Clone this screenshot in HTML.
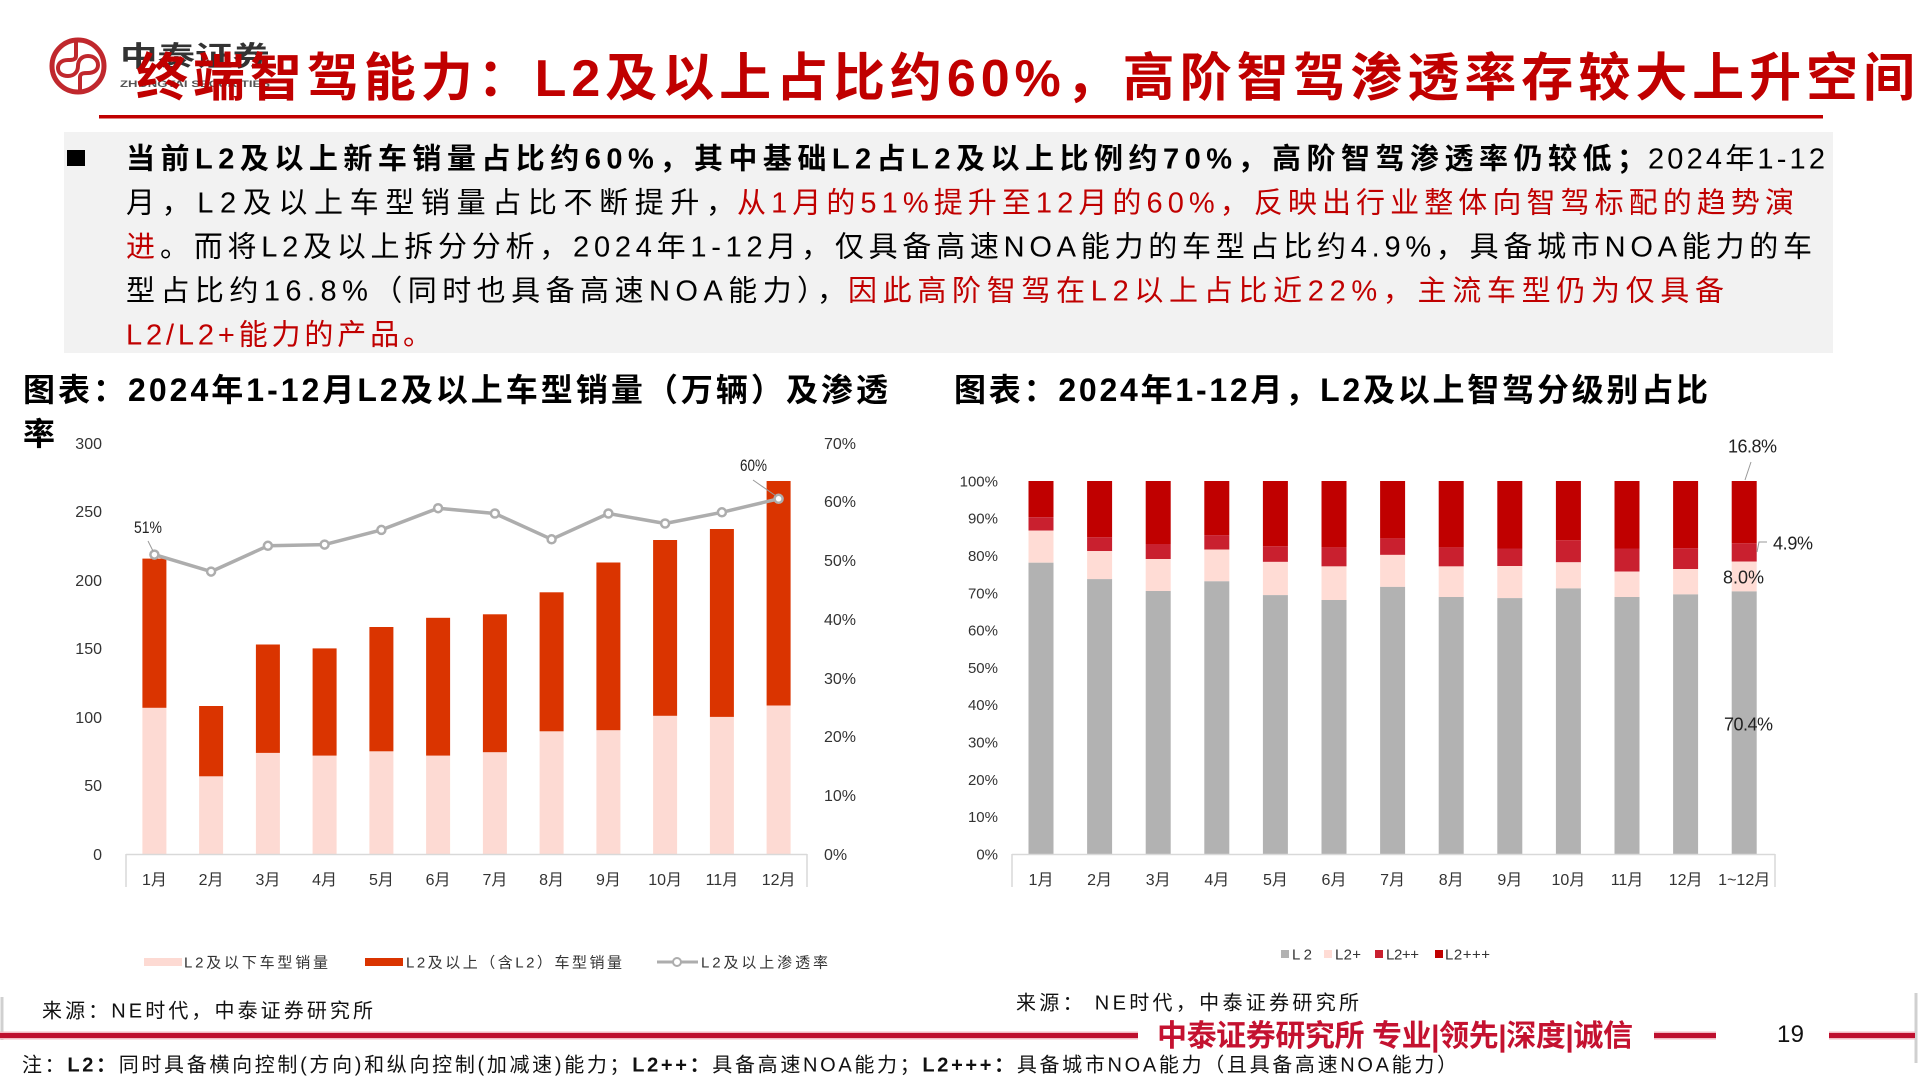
<!DOCTYPE html>
<html><head><meta charset="utf-8"><style>
html,body{margin:0;padding:0;background:#fff;}
svg{display:block;}
text{font-family:"Liberation Sans","Noto Sans CJK SC",sans-serif;}
</style></head><body>
<svg width="1920" height="1080" viewBox="0 0 1920 1080" xmlns="http://www.w3.org/2000/svg">
<rect x="0" y="0" width="1920" height="1080" fill="#fff"/>

<!-- Logo -->
<circle cx="78" cy="66" r="26" fill="none" stroke="#C0282D" stroke-width="5"/>
<path d="M76,41 V56 C76,60 72,60 68,60 C61,60 58,64 58,68 C58,73 62,76 68,76 C74,76 78,72 78,66 C78,60 82,56 88,56 C94,56 98,60 98,65 C98,70 94,73 88,73 C84,73 80,73 80,77 V91" fill="none" stroke="#C0282D" stroke-width="4"/>
<text x="120" y="66" font-size="28" font-weight="bold" fill="#333" textLength="150" lengthAdjust="spacingAndGlyphs">中泰证券</text>
<text x="120" y="87" font-size="9" font-weight="bold" fill="#555" textLength="150" lengthAdjust="spacingAndGlyphs">ZHONGTAI SECURITIES</text>

<!-- Title -->
<text x="136" y="96" font-size="52" font-weight="bold" fill="#C00000" textLength="1779" lengthAdjust="spacing">终端智驾能力：L2及以上占比约60%，高阶智驾渗透率存较大上升空间</text>
<rect x="99" y="115" width="1724" height="3.5" fill="#C00000"/>

<!-- Summary box -->
<rect x="64" y="132" width="1769" height="221" fill="#F2F2F2"/>
<rect x="67" y="150" width="18" height="16" fill="#000"/>
<g font-size="29">
<text x="126" y="168.5" font-weight="bold" fill="#000" textLength="1520" lengthAdjust="spacing">当前L2及以上新车销量占比约60%，其中基础L2占L2及以上比例约70%，高阶智驾渗透率仍较低；</text>
<text x="1648" y="168.5" fill="#000" textLength="177" lengthAdjust="spacing">2024年1-12</text>

<text x="126" y="212.5" fill="#000" textLength="609" lengthAdjust="spacing">月，L2及以上车型销量占比不断提升，</text>
<text x="737" y="212.5" fill="#C00000" textLength="1057" lengthAdjust="spacing">从1月的51%提升至12月的60%，反映出行业整体向智驾标配的趋势演</text>

<text x="126" y="256.5" fill="#C00000">进</text>
<text x="160" y="256.5" fill="#000" textLength="1652" lengthAdjust="spacing">。而将L2及以上拆分分析，2024年1-12月，仅具备高速NOA能力的车型占比约4.9%，具备城市NOA能力的车</text>

<text x="126" y="300.5" fill="#000" textLength="720" lengthAdjust="spacing">型占比约16.8%（同时也具备高速NOA能力），</text>
<text x="848" y="300.5" fill="#C00000" textLength="876" lengthAdjust="spacing">因此高阶智驾在L2以上占比近22%，主流车型仍为仅具备</text>

<text x="126" y="344.5" fill="#C00000" textLength="306" lengthAdjust="spacing">L2/L2+能力的产品。</text>
</g>

<!-- Left chart title -->
<text x="23" y="401" font-size="32" font-weight="bold" fill="#000" textLength="865" lengthAdjust="spacing">图表：2024年1-12月L2及以上车型销量（万辆）及渗透</text>
<text x="23" y="445" font-size="32" font-weight="bold" fill="#000">率</text>

<!-- Right chart title -->
<text x="954" y="401" font-size="32" font-weight="bold" fill="#000" textLength="754" lengthAdjust="spacing">图表：2024年1-12月，L2及以上智驾分级别占比</text>

<!-- LEFT CHART -->
<g font-size="16" fill="#333">
<g text-anchor="end">
<text x="102" y="860">0</text>
<text x="102" y="791">50</text>
<text x="102" y="723">100</text>
<text x="102" y="654">150</text>
<text x="102" y="586">200</text>
<text x="102" y="517">250</text>
<text x="102" y="449">300</text>
</g>
<g>
<text x="824" y="860">0%</text>
<text x="824" y="801">10%</text>
<text x="824" y="742">20%</text>
<text x="824" y="684">30%</text>
<text x="824" y="625">40%</text>
<text x="824" y="566">50%</text>
<text x="824" y="507">60%</text>
<text x="824" y="449">70%</text>
</g>
</g>

<!-- left bars -->
<g fill="#FDDAD3">
<rect x="142.4" y="707.8" width="24" height="146.2"/>
<rect x="199.1" y="776.3" width="24" height="77.7"/>
<rect x="255.9" y="752.9" width="24" height="101.1"/>
<rect x="312.6" y="755.6" width="24" height="98.4"/>
<rect x="369.4" y="751.3" width="24" height="102.7"/>
<rect x="426.1" y="755.6" width="24" height="98.4"/>
<rect x="482.9" y="752.2" width="24" height="101.8"/>
<rect x="539.6" y="731.3" width="24" height="122.7"/>
<rect x="596.4" y="730.2" width="24" height="123.8"/>
<rect x="653.1" y="715.8" width="24" height="138.2"/>
<rect x="709.9" y="716.9" width="24" height="137.1"/>
<rect x="766.6" y="705.5" width="24" height="148.5"/>
</g>
<g fill="#DA3400">
<rect x="142.4" y="558.6" width="24" height="149.2"/>
<rect x="199.1" y="706.0" width="24" height="70.3"/>
<rect x="255.9" y="644.5" width="24" height="108.4"/>
<rect x="312.6" y="648.4" width="24" height="107.2"/>
<rect x="369.4" y="627.0" width="24" height="124.3"/>
<rect x="426.1" y="617.8" width="24" height="137.8"/>
<rect x="482.9" y="614.3" width="24" height="137.9"/>
<rect x="539.6" y="592.3" width="24" height="139.0"/>
<rect x="596.4" y="562.5" width="24" height="167.7"/>
<rect x="653.1" y="540.0" width="24" height="175.8"/>
<rect x="709.9" y="529.0" width="24" height="187.9"/>
<rect x="766.6" y="481.0" width="24" height="224.5"/>
</g>

<!-- left axis -->
<line x1="126" y1="854.5" x2="807" y2="854.5" stroke="#D9D9D9" stroke-width="1.5"/>
<line x1="126" y1="854" x2="126" y2="887" stroke="#D9D9D9" stroke-width="1.5"/>
<line x1="807" y1="854" x2="807" y2="887" stroke="#D9D9D9" stroke-width="1.5"/>
<g font-size="16" fill="#333" text-anchor="middle">
<text x="154.4" y="885">1月</text>
<text x="211.1" y="885">2月</text>
<text x="267.9" y="885">3月</text>
<text x="324.6" y="885">4月</text>
<text x="381.4" y="885">5月</text>
<text x="438.1" y="885">6月</text>
<text x="494.9" y="885">7月</text>
<text x="551.6" y="885">8月</text>
<text x="608.4" y="885">9月</text>
<text x="665.1" y="885">10月</text>
<text x="721.9" y="885">11月</text>
<text x="778.6" y="885">12月</text>
</g>

<!-- line -->
<polyline points="154.4,554.6 211.1,571.6 267.9,545.8 324.6,544.6 381.4,529.9 438.1,508.2 494.9,513.5 551.6,539.3 608.4,513.5 665.1,523.5 721.9,512.3 778.6,498.8" fill="none" stroke="#ADADAD" stroke-width="3.5" stroke-linejoin="round"/>
<g fill="#fff" stroke="#ADADAD" stroke-width="2.5">
<circle cx="154.4" cy="554.6" r="4"/>
<circle cx="211.1" cy="571.6" r="4"/>
<circle cx="267.9" cy="545.8" r="4"/>
<circle cx="324.6" cy="544.6" r="4"/>
<circle cx="381.4" cy="529.9" r="4"/>
<circle cx="438.1" cy="508.2" r="4"/>
<circle cx="494.9" cy="513.5" r="4"/>
<circle cx="551.6" cy="539.3" r="4"/>
<circle cx="608.4" cy="513.5" r="4"/>
<circle cx="665.1" cy="523.5" r="4"/>
<circle cx="721.9" cy="512.3" r="4"/>
<circle cx="778.6" cy="498.8" r="4"/>
</g>
<line x1="148" y1="541" x2="153" y2="551" stroke="#999" stroke-width="1"/>
<line x1="753" y1="480" x2="776" y2="496" stroke="#999" stroke-width="1"/>
<text x="134" y="533" font-size="17" fill="#222" textLength="28" lengthAdjust="spacingAndGlyphs">51%</text>
<text x="740" y="471" font-size="17" fill="#222" textLength="27" lengthAdjust="spacingAndGlyphs">60%</text>

<!-- left legend -->
<rect x="144" y="958" width="38" height="8" fill="#FDDAD3"/>
<text x="184" y="967.5" font-size="15" fill="#333" textLength="144" lengthAdjust="spacing">L2及以下车型销量</text>
<rect x="365" y="958" width="38" height="8" fill="#DA3400"/>
<text x="406" y="967.5" font-size="15" fill="#333" textLength="216" lengthAdjust="spacing">L2及以上（含L2）车型销量</text>
<line x1="657" y1="962" x2="698" y2="962" stroke="#ADADAD" stroke-width="3"/>
<circle cx="677" cy="962" r="4" fill="#fff" stroke="#ADADAD" stroke-width="2"/>
<text x="701" y="967.5" font-size="15" fill="#333" textLength="127" lengthAdjust="spacing">L2及以上渗透率</text>

<!-- RIGHT CHART -->
<g font-size="15" fill="#333" text-anchor="end">
<text x="998" y="859.4">0%</text>
<text x="998" y="822.1">10%</text>
<text x="998" y="784.8">20%</text>
<text x="998" y="747.5">30%</text>
<text x="998" y="710.2">40%</text>
<text x="998" y="672.9">50%</text>
<text x="998" y="635.6">60%</text>
<text x="998" y="598.3">70%</text>
<text x="998" y="561.0">80%</text>
<text x="998" y="523.7">90%</text>
<text x="998" y="486.4">100%</text>
</g>

<g fill="#C00000">
<rect x="1028.5" y="481" width="25" height="36.2"/>
<rect x="1087.1" y="481" width="25" height="56.3"/>
<rect x="1145.7" y="481" width="25" height="63.0"/>
<rect x="1204.3" y="481" width="25" height="54.1"/>
<rect x="1262.9" y="481" width="25" height="65.3"/>
<rect x="1321.5" y="481" width="25" height="66.4"/>
<rect x="1380.1" y="481" width="25" height="57.4"/>
<rect x="1438.7" y="481" width="25" height="66.4"/>
<rect x="1497.3" y="481" width="25" height="67.5"/>
<rect x="1555.9" y="481" width="25" height="59.3"/>
<rect x="1614.5" y="481" width="25" height="67.5"/>
<rect x="1673.1" y="481" width="25" height="67.1"/>
<rect x="1731.7" y="481" width="25" height="62.3"/>
</g>
<g fill="#C9202F">
<rect x="1028.5" y="517.2" width="25" height="13.4"/>
<rect x="1087.1" y="537.3" width="25" height="13.8"/>
<rect x="1145.7" y="544.0" width="25" height="15.0"/>
<rect x="1204.3" y="535.1" width="25" height="14.5"/>
<rect x="1262.9" y="546.3" width="25" height="15.6"/>
<rect x="1321.5" y="547.4" width="25" height="19.0"/>
<rect x="1380.1" y="538.4" width="25" height="16.5"/>
<rect x="1438.7" y="547.4" width="25" height="19.0"/>
<rect x="1497.3" y="548.5" width="25" height="17.5"/>
<rect x="1555.9" y="540.3" width="25" height="22.0"/>
<rect x="1614.5" y="548.5" width="25" height="23.1"/>
<rect x="1673.1" y="548.1" width="25" height="20.9"/>
<rect x="1731.7" y="543.3" width="25" height="18.3"/>
</g>
<g fill="#FFDCD5">
<rect x="1028.5" y="530.6" width="25" height="32.1"/>
<rect x="1087.1" y="551.1" width="25" height="28.0"/>
<rect x="1145.7" y="559.0" width="25" height="32.0"/>
<rect x="1204.3" y="549.6" width="25" height="31.7"/>
<rect x="1262.9" y="561.9" width="25" height="33.2"/>
<rect x="1321.5" y="566.4" width="25" height="33.6"/>
<rect x="1380.1" y="554.9" width="25" height="32.0"/>
<rect x="1438.7" y="566.4" width="25" height="30.6"/>
<rect x="1497.3" y="566.0" width="25" height="32.1"/>
<rect x="1555.9" y="562.3" width="25" height="26.1"/>
<rect x="1614.5" y="571.6" width="25" height="25.4"/>
<rect x="1673.1" y="569.0" width="25" height="25.4"/>
<rect x="1731.7" y="561.6" width="25" height="29.8"/>
</g>
<g fill="#B2B2B2">
<rect x="1028.5" y="562.7" width="25" height="291.3"/>
<rect x="1087.1" y="579.1" width="25" height="274.9"/>
<rect x="1145.7" y="591.0" width="25" height="263.0"/>
<rect x="1204.3" y="581.3" width="25" height="272.7"/>
<rect x="1262.9" y="595.1" width="25" height="258.9"/>
<rect x="1321.5" y="600.0" width="25" height="254.0"/>
<rect x="1380.1" y="586.9" width="25" height="267.1"/>
<rect x="1438.7" y="597.0" width="25" height="257.0"/>
<rect x="1497.3" y="598.1" width="25" height="255.9"/>
<rect x="1555.9" y="588.4" width="25" height="265.6"/>
<rect x="1614.5" y="597.0" width="25" height="257.0"/>
<rect x="1673.1" y="594.4" width="25" height="259.6"/>
<rect x="1731.7" y="591.4" width="25" height="262.6"/>
</g>

<line x1="1012" y1="854.5" x2="1775" y2="854.5" stroke="#D9D9D9" stroke-width="1.5"/>
<line x1="1012" y1="854" x2="1012" y2="887" stroke="#D9D9D9" stroke-width="1.5"/>
<line x1="1775" y1="854" x2="1775" y2="887" stroke="#D9D9D9" stroke-width="1.5"/>
<g font-size="16" fill="#333" text-anchor="middle">
<text x="1041" y="885">1月</text>
<text x="1099.6" y="885">2月</text>
<text x="1158.2" y="885">3月</text>
<text x="1216.8" y="885">4月</text>
<text x="1275.4" y="885">5月</text>
<text x="1334" y="885">6月</text>
<text x="1392.6" y="885">7月</text>
<text x="1451.2" y="885">8月</text>
<text x="1509.8" y="885">9月</text>
<text x="1568.4" y="885">10月</text>
<text x="1627" y="885">11月</text>
<text x="1685.6" y="885">12月</text>
<text x="1744.2" y="885">1~12月</text>
</g>

<!-- right labels -->
<line x1="1751" y1="462" x2="1745" y2="480" stroke="#999" stroke-width="1"/>
<polyline points="1767,542 1759,542 1757,552" fill="none" stroke="#999" stroke-width="1"/>
<g font-size="18" fill="#222">
<text x="1728" y="452.5" textLength="49" lengthAdjust="spacing">16.8%</text>
<text x="1773" y="549.5" textLength="40" lengthAdjust="spacing">4.9%</text>
<text x="1723" y="583.5" textLength="41" lengthAdjust="spacing">8.0%</text>
<text x="1724" y="730.5" textLength="49" lengthAdjust="spacing">70.4%</text>
</g>

<!-- right legend -->
<rect x="1281" y="950" width="8" height="8" fill="#B2B2B2"/>
<text x="1292" y="959.5" font-size="15" fill="#333" textLength="20" lengthAdjust="spacing">L2</text>
<rect x="1324" y="950" width="8" height="8" fill="#FFDCD5"/>
<text x="1335" y="959.5" font-size="15" fill="#333" textLength="26" lengthAdjust="spacing">L2+</text>
<rect x="1375" y="950" width="8" height="8" fill="#C9202F"/>
<text x="1386" y="959.5" font-size="15" fill="#333" textLength="33" lengthAdjust="spacing">L2++</text>
<rect x="1435" y="950" width="8" height="8" fill="#C00000"/>
<text x="1445" y="959.5" font-size="15" fill="#333" textLength="45" lengthAdjust="spacing">L2+++</text>

<!-- sources -->
<text x="42" y="1017.5" font-size="20" fill="#111" textLength="331" lengthAdjust="spacing">来源：NE时代，中泰证券研究所</text>
<text x="1016" y="1009.5" font-size="20" fill="#111" textLength="343" lengthAdjust="spacing">来源： NE时代，中泰证券研究所</text>

<!-- footer -->
<line x1="2" y1="997" x2="2" y2="1040" stroke="#D0D0D0" stroke-width="3"/>
<line x1="1916" y1="993" x2="1916" y2="1063" stroke="#D0D0D0" stroke-width="3"/>
<rect x="0" y="1031.5" width="1138" height="8" fill="#F2B9C2"/>
<rect x="0" y="1033" width="1138" height="5" fill="#BE0F2E"/>
<rect x="1654" y="1031.5" width="62" height="8" fill="#F2B9C2"/>
<rect x="1654" y="1033" width="62" height="5" fill="#BE0F2E"/>
<rect x="1829" y="1031.5" width="86" height="8" fill="#F2B9C2"/>
<rect x="1829" y="1033" width="86" height="5" fill="#BE0F2E"/>
<text x="1157" y="1046" font-size="30" font-weight="bold" fill="#C41230" textLength="476" lengthAdjust="spacing">中泰证券研究所 专业|领先|深度|诚信</text>
<text x="1777" y="1042" font-size="24" fill="#111" textLength="27" lengthAdjust="spacing">19</text>

<!-- note -->
<text x="22" y="1071.5" font-size="20" fill="#111" textLength="1435" lengthAdjust="spacing">注：<tspan font-weight="bold">L2：</tspan>同时具备横向控制(方向)和纵向控制(加减速)能力；<tspan font-weight="bold">L2++：</tspan>具备高速NOA能力；<tspan font-weight="bold">L2+++：</tspan>具备城市NOA能力（且具备高速NOA能力）</text>
</svg>
</body></html>
